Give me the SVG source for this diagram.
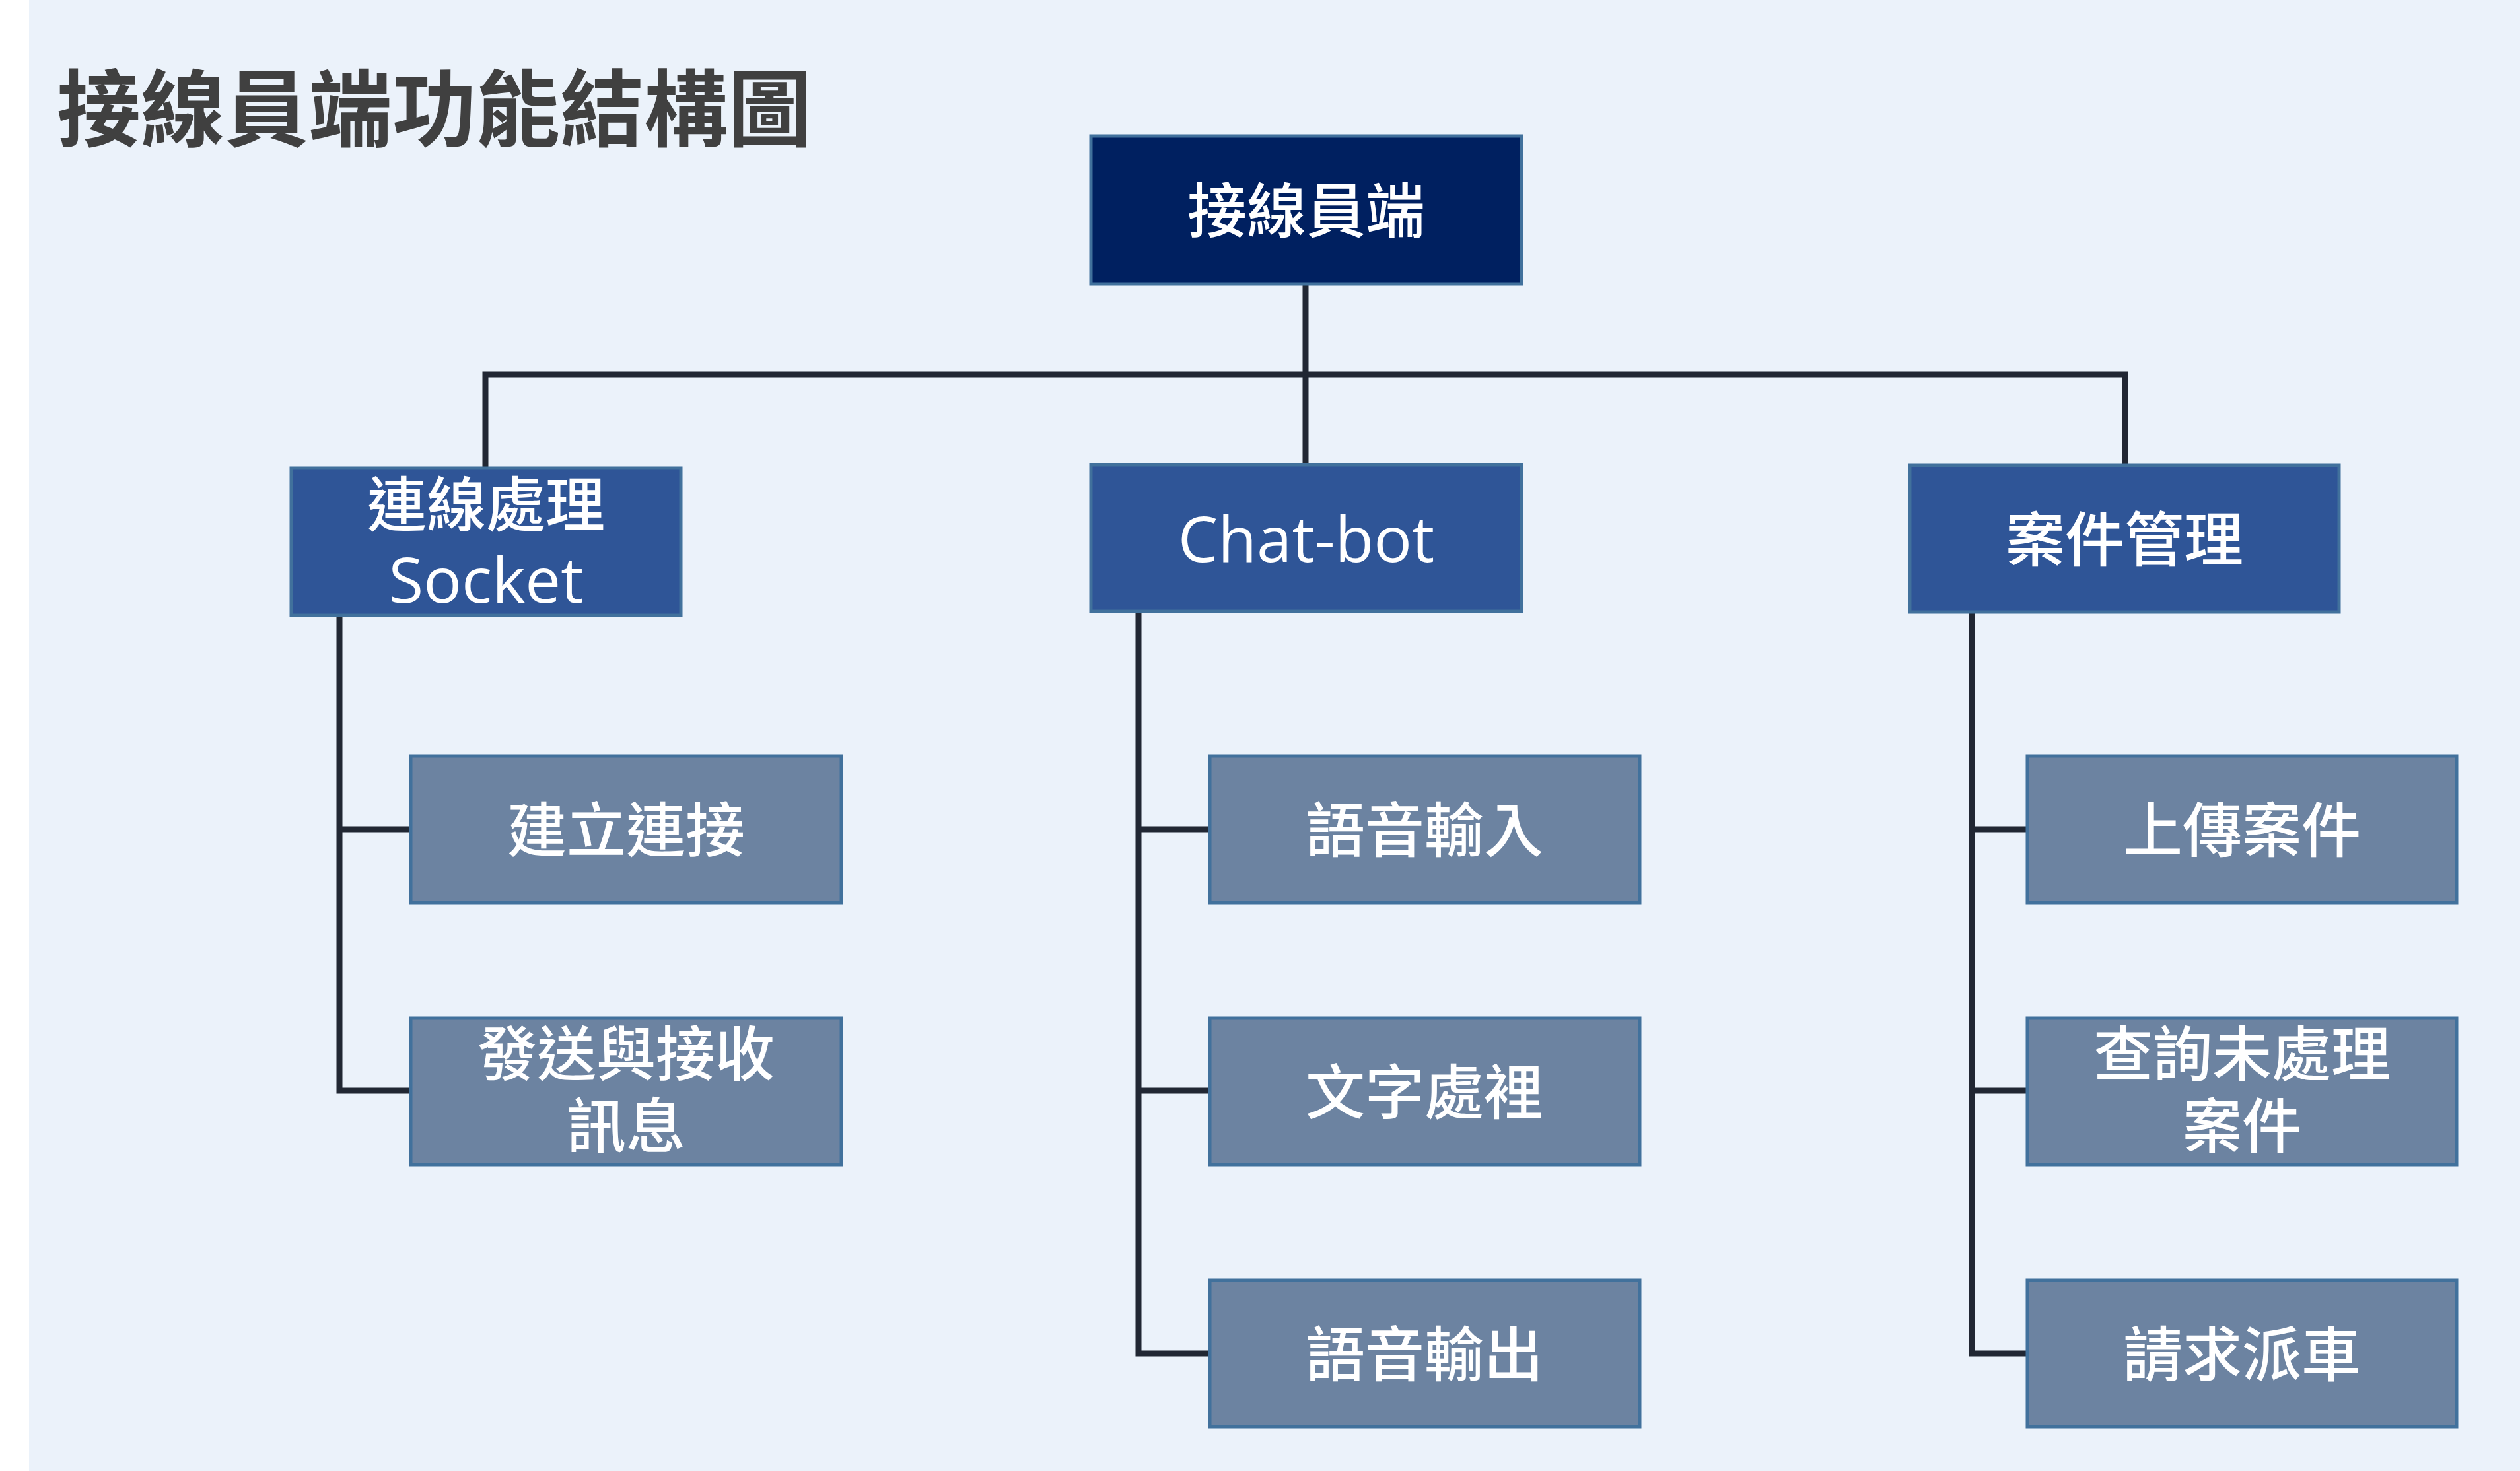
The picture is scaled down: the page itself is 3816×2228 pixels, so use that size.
<svg xmlns="http://www.w3.org/2000/svg" width="3816" height="2228" viewBox="0 0 3816 2228">
<style>
.bg{fill:#EBF2FA}
.title{font-family:"Noto Sans CJK TC","Noto Sans CJK SC",sans-serif;font-size:127px;font-weight:700;fill:#404040}
.box{stroke:#41719C;stroke-width:5}
.root{fill:#002060}
.l1{fill:#2F5597}
.l2{fill:#6C83A1}
.t{font-family:"Noto Sans CJK TC","Noto Sans CJK SC",sans-serif;font-size:90px;font-weight:500;fill:#FFFFFF;text-anchor:middle}
.lat{font-family:"Open Sans","Noto Sans CJK TC",sans-serif;font-size:96px;font-weight:500;fill:#FFFFFF;text-anchor:middle}
.conn{fill:none;stroke:#212733;stroke-width:9;stroke-linecap:butt;stroke-linejoin:miter}
</style>
<rect x="0" y="0" width="3816" height="2228" fill="#FFFFFF"/>
<rect class="bg" x="44" y="0" width="3772" height="2228"/>
<text class="title" x="86" y="212">接線員端功能結構圖</text>

<g id="connectors">
<path class="conn" d="M1977,430 V704"/>
<path class="conn" d="M735,709 V567 H3218 V705"/>
<path class="conn" d="M622,1256 H514 V932 M514,1256 V1652 H622"/>
<path class="conn" d="M1832,1256 H1724 V926 M1724,1256 V2050 H1832 M1724,1652 H1832"/>
<path class="conn" d="M3070,1256 H2986 V927 M2986,1256 V2050 H3070 M2986,1652 H3070"/>
</g>

<g id="root">
<rect class="box root" x="1652" y="206" width="652" height="224"/>
<text class="t" x="1978" y="352">接線員端</text>
</g>

<g id="socket">
<rect class="box l1" x="441" y="709" width="590" height="223"/>
<text class="t" x="736" y="797">連線處理</text>
<text class="lat" x="736" y="913">Socket</text>
</g>

<g id="chatbot">
<rect class="box l1" x="1652" y="704" width="652" height="222"/>
<text class="lat" x="1978" y="851">Chat-bot</text>
</g>

<g id="case">
<rect class="box l1" x="2892" y="705" width="650" height="222"/>
<text class="t" x="3217" y="850">案件管理</text>
</g>

<g id="connect">
<rect class="box l2" x="622" y="1145" width="652" height="222"/>
<text class="t" x="948" y="1290">建立連接</text>
</g>

<g id="sendrecv">
<rect class="box l2" x="622" y="1542" width="652" height="222"/>
<text class="t" x="948" y="1629">發送與接收</text>
<text class="t" x="948" y="1738">訊息</text>
</g>

<g id="voicein">
<rect class="box l2" x="1832" y="1145" width="651" height="222"/>
<text class="t" x="2157" y="1290">語音輸入</text>
</g>

<g id="textproc">
<rect class="box l2" x="1832" y="1542" width="651" height="222"/>
<text class="t" x="2157" y="1687">文字處裡</text>
</g>

<g id="voiceout">
<rect class="box l2" x="1832" y="1939" width="651" height="222"/>
<text class="t" x="2157" y="2084">語音輸出</text>
</g>

<g id="upload">
<rect class="box l2" x="3070" y="1145" width="650" height="222"/>
<text class="t" x="3395" y="1290">上傳案件</text>
</g>

<g id="query">
<rect class="box l2" x="3070" y="1542" width="650" height="222"/>
<text class="t" x="3395" y="1629">查詢未處理</text>
<text class="t" x="3395" y="1738">案件</text>
</g>

<g id="dispatch">
<rect class="box l2" x="3070" y="1939" width="650" height="222"/>
<text class="t" x="3395" y="2084">請求派車</text>
</g>
</svg>
